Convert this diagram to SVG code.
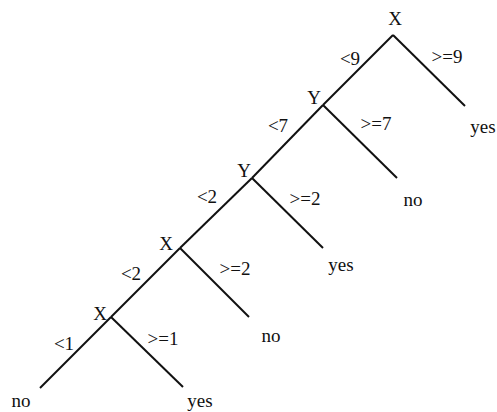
<svg xmlns="http://www.w3.org/2000/svg" width="497" height="412" viewBox="0 0 497 412">
<style>
text{font-family:"Liberation Serif","Times New Roman",serif;font-size:19px;fill:#111;text-anchor:middle}
line{stroke:#111;stroke-width:2;stroke-linecap:butt}
</style>
<rect width="497" height="412" fill="#fff"/>
<g id="connectors">
<line x1="393" y1="35" x2="465" y2="106"/>
<line x1="393" y1="35" x2="323" y2="105"/>
<line x1="323" y1="105" x2="397" y2="178"/>
<line x1="323" y1="105" x2="252" y2="178"/>
<line x1="252" y1="178" x2="323" y2="248"/>
<line x1="252" y1="178" x2="180" y2="248"/>
<line x1="180" y1="248" x2="249" y2="317"/>
<line x1="180" y1="248" x2="111" y2="317"/>
<line x1="111" y1="317" x2="183" y2="387"/>
<line x1="111" y1="317" x2="40" y2="388"/>
<text x="350" y="65">&lt;9</text>
<text x="447" y="63">&gt;=9</text>
<text x="278" y="132">&lt;7</text>
<text x="376" y="130">&gt;=7</text>
<text x="207" y="203">&lt;2</text>
<text x="305" y="205">&gt;=2</text>
<text x="131" y="280">&lt;2</text>
<text x="235" y="275">&gt;=2</text>
<text x="64" y="350">&lt;1</text>
<text x="163" y="345">&gt;=1</text>
</g>
<g id="n1"><text x="395" y="25">X</text></g>
<g id="n2"><text x="314" y="104">Y</text></g>
<g id="n3"><text x="244" y="177">Y</text></g>
<g id="n4"><text x="166" y="250">X</text></g>
<g id="n5"><text x="100" y="320">X</text></g>
<g id="leaf1"><text x="483" y="133">yes</text></g>
<g id="leaf2"><text x="413" y="206">no</text></g>
<g id="leaf3"><text x="341" y="271">yes</text></g>
<g id="leaf4"><text x="271" y="342">no</text></g>
<g id="leaf5"><text x="21" y="407">no</text></g>
<g id="leaf6"><text x="200" y="407">yes</text></g>
</svg>
